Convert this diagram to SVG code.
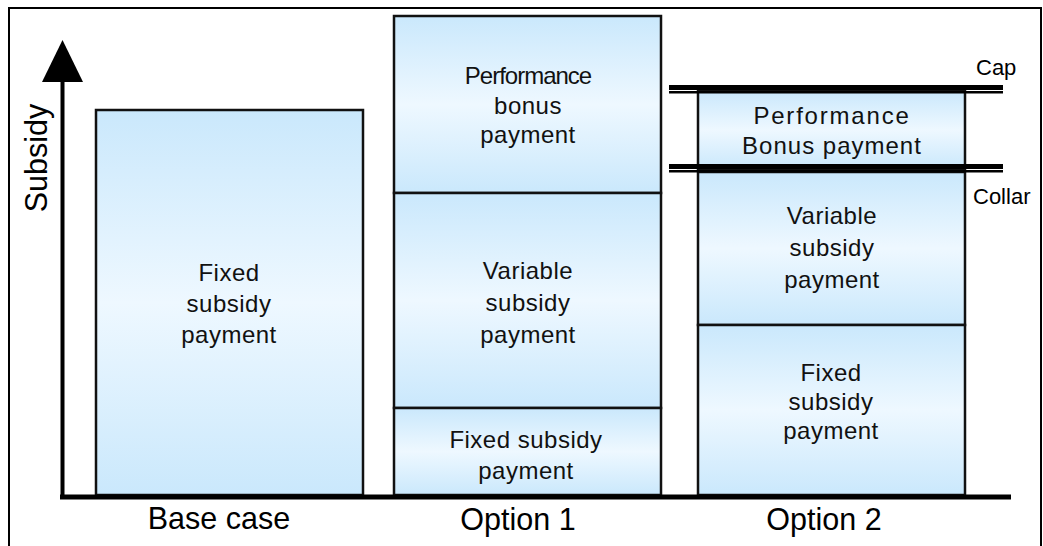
<svg xmlns="http://www.w3.org/2000/svg" width="1043" height="546" viewBox="0 0 1043 546">
<defs>
<linearGradient id="g" x1="0" y1="0" x2="0" y2="1">
<stop offset="0" stop-color="#cae8fc"/>
<stop offset="0.5" stop-color="#eef8ff"/>
<stop offset="1" stop-color="#cae8fc"/>
</linearGradient>
<style>
.box{fill:url(#g);stroke:#111;stroke-width:2.5}
.t{font-family:"Liberation Sans",Arial,sans-serif;font-size:24px;letter-spacing:0.5px;fill:#111;text-anchor:middle}
.ax{font-family:"Liberation Sans",Arial,sans-serif;font-size:30.5px;fill:#000;text-anchor:middle}
.lim{font-family:"Liberation Sans",Arial,sans-serif;font-size:22px;fill:#000}
</style>
</defs>
<rect x="0" y="0" width="1043" height="546" fill="#fff"/>
<rect x="9" y="8" width="1032" height="600" fill="none" stroke="#000" stroke-width="2"/>

<g id="base-case">
<rect class="box" x="96" y="110" width="267" height="385"/>
<text class="t" x="229" y="281">Fixed</text>
<text class="t" x="229" y="312">subsidy</text>
<text class="t" x="229" y="343">payment</text>
</g>

<g id="opt1-performance">
<rect class="box" x="394" y="16" width="267" height="177"/>
<text class="t" x="528" y="84" style="letter-spacing:-1px">Performance</text>
<text class="t" x="528" y="114">bonus</text>
<text class="t" x="528" y="143">payment</text>
</g>
<g id="opt1-variable">
<rect class="box" x="394" y="193" width="267" height="215"/>
<text class="t" x="528" y="279">Variable</text>
<text class="t" x="528" y="311">subsidy</text>
<text class="t" x="528" y="343">payment</text>
</g>
<g id="opt1-fixed">
<rect class="box" x="394" y="408" width="267" height="87"/>
<text class="t" x="526" y="448">Fixed subsidy</text>
<text class="t" x="526" y="479">payment</text>
</g>

<g id="opt2-performance">
<rect class="box" x="698" y="91" width="267" height="78"/>
<text class="t" x="832" y="124" style="letter-spacing:1.8px">Performance</text>
<text class="t" x="832" y="154" style="letter-spacing:1px">Bonus payment</text>
</g>
<g id="opt2-variable">
<rect class="box" x="698" y="172" width="267" height="153"/>
<text class="t" x="832" y="224">Variable</text>
<text class="t" x="832" y="256">subsidy</text>
<text class="t" x="832" y="288">payment</text>
</g>
<g id="opt2-fixed">
<rect class="box" x="698" y="325" width="267" height="170"/>
<text class="t" x="831" y="381">Fixed</text>
<text class="t" x="831" y="410">subsidy</text>
<text class="t" x="831" y="439">payment</text>
</g>

<g id="cap">
<rect x="669" y="85" width="334" height="5" fill="#000"/>
<rect x="669" y="91" width="334" height="2.5" fill="#000"/>
<text class="lim" x="976" y="75">Cap</text>
</g>
<g id="collar">
<rect x="669" y="164" width="334" height="5" fill="#000"/>
<rect x="669" y="170" width="334" height="2.5" fill="#000"/>
<text class="lim" x="973" y="204">Collar</text>
</g>

<g id="connectors">
<line x1="62.5" y1="78" x2="62.5" y2="499" stroke="#000" stroke-width="4"/>
<polygon points="62.5,40 42,82 83,82" fill="#000"/>
<line x1="60" y1="497" x2="1011" y2="497" stroke="#000" stroke-width="5"/>
</g>

<g id="labels">
<text class="ax" x="219" y="529">Base case</text>
<text class="ax" x="518" y="530">Option 1</text>
<text class="ax" x="824" y="530">Option 2</text>
<text class="ax" transform="translate(47,158) rotate(-90)">Subsidy</text>
</g>
</svg>
